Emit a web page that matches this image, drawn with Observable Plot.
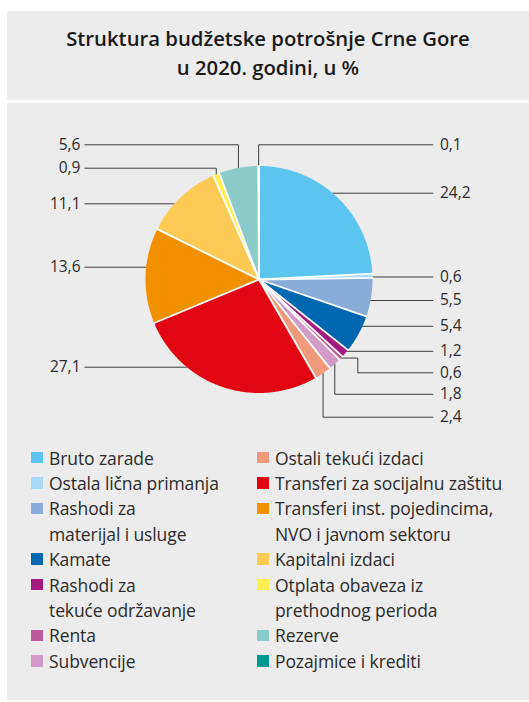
<!DOCTYPE html>
<html>
<head>
<meta charset="utf-8">
<script src="https://cdn.jsdelivr.net/npm/d3@7"></script>
<script src="https://cdn.jsdelivr.net/npm/@observablehq/plot@0.6"></script>
<style>
  html, body { margin: 0; padding: 0; background: #ffffff; }
  body { width: 529px; height: 702px; position: relative; overflow: hidden; font-family: "Open Sans", "Noto Sans", sans-serif; color: #2b2b2b; }
  .panel { position: absolute; background: #ececec; }
  #title { left: 7px; top: 11px; width: 522px; height: 89px; box-sizing: border-box; padding-top: 13.2px;
           text-align: center; font-weight: 600; font-size: 20.3px; line-height: 29px; color: #1a1a1a; letter-spacing: 0px; }
  #body { left: 7px; top: 103px; width: 522px; height: 597px; }
  #chart { position: absolute; left: 0; top: 103px; }
  #legend { position: absolute; left: 31px; top: 445.5px; display: grid; grid-template-columns: 226px 270px;
            font-size: 17.5px; line-height: 25.4px; color: #2b2b2b; letter-spacing: -0.1px; }
  .item { position: relative; padding-left: 18px; white-space: nowrap; }
  .sw { position: absolute; left: 0; top: 6.2px; width: 11.7px; height: 11.7px; }
</style>
</head>
<body>
<div class="panel" id="title">Struktura budžetske potrošnje Crne Gore<br>u 2020. godini, u %</div>
<div class="panel" id="body"></div>
<div id="chart"></div>
<div id="legend"></div>
<script>
// ---- data ----
const categories = [
  "Bruto zarade",
  "Ostala lična primanja",
  "Rashodi za materijal i usluge",
  "Kamate",
  "Rashodi za tekuće održavanje",
  "Renta",
  "Subvencije",
  "Ostali tekući izdaci",
  "Transferi za socijalnu zaštitu",
  "Transferi inst. pojedincima, NVO i javnom sektoru",
  "Kapitalni izdaci",
  "Otplata obaveza iz prethodnog perioda",
  "Rezerve",
  "Pozajmice i krediti"
];
const values = [24.2, 0.6, 5.5, 5.4, 1.2, 0.6, 1.8, 2.4, 27.1, 13.6, 11.1, 0.9, 5.6, 0.1];
const legendLines = [
  ["Bruto zarade"],
  ["Ostala lična primanja"],
  ["Rashodi za", "materijal i usluge"],
  ["Kamate"],
  ["Rashodi za", "tekuće održavanje"],
  ["Renta"],
  ["Subvencije"],
  ["Ostali tekući izdaci"],
  ["Transferi za socijalnu zaštitu"],
  ["Transferi inst. pojedincima,", "NVO i javnom sektoru"],
  ["Kapitalni izdaci"],
  ["Otplata obaveza iz", "prethodnog perioda"],
  ["Rezerve"],
  ["Pozajmice i krediti"]
];
const colors = ["#5bc4ef", "#a7dbf5", "#8aacda", "#0068b1", "#a2197f", "#bd5a9c", "#d29ac6",
                "#f19a7b", "#e20613", "#f29100", "#fdca55", "#fff04f", "#8bcbc9", "#009a8e"];

// ---- layout (page pixels) ----
const W = 529, TOP = 103, H = 330;
const CX = 258.5, CY = 279, R = 113.5;
const RIGHT_END = 432.3, LEFT_END = 84.3, RIGHT_TEXT = 439.5, LEFT_TEXT = 80;
// label placement: slice index, side, label y (page px), route type
const labelLayout = [
  {i: 13, side: "right", y: 144.3, route: "v"},
  {i: 0,  side: "right", y: 192.7, route: "h"},
  {i: 1,  side: "right", y: 276.5, route: "h"},
  {i: 2,  side: "right", y: 300.0, route: "h"},
  {i: 3,  side: "right", y: 325.8, route: "h"},
  {i: 4,  side: "right", y: 350.8, route: "h"},
  {i: 5,  side: "right", y: 372.3, route: "step", elbow: 357.3},
  {i: 6,  side: "right", y: 393.8, route: "v"},
  {i: 7,  side: "right", y: 416.7, route: "v"},
  {i: 8,  side: "left",  y: 366.7, route: "h"},
  {i: 9,  side: "left",  y: 266.7, route: "h"},
  {i: 10, side: "left",  y: 203.3, route: "h"},
  {i: 11, side: "left",  y: 167.7, route: "v"},
  {i: 12, side: "left",  y: 144.3, route: "v"}
];

// data units: pie radius = 1, origin at pie centre, y up
const px2x = p => (p - CX) / R;
const py2y = p => (CY - p) / R;

const arcs = d3.pie().sort(null).value(d => d.value)(categories.map((name, i) => ({name, value: values[i]})));

// slice polygons
const slicePts = [];
arcs.forEach(a => {
  const n = Math.max(2, Math.ceil((a.endAngle - a.startAngle) / 0.01));
  slicePts.push({name: a.data.name, x: 0, y: 0});
  for (let k = 0; k <= n; k++) {
    const t = a.startAngle + (a.endAngle - a.startAngle) * k / n;
    slicePts.push({name: a.data.name, x: Math.sin(t), y: Math.cos(t)});
  }
});
const boundaries = arcs.map(a => a.startAngle);

// leader lines
const leaderPts = [];
const labels = [];
labelLayout.forEach((L, k) => {
  const a = arcs[L.i];
  const mid = (a.startAngle + a.endAngle) / 2;
  const ly = py2y(L.y);
  const endX = px2x(L.side === "right" ? RIGHT_END : LEFT_END);
  let pts;
  if (L.route === "h") {
    const sx = Math.sqrt(Math.max(0, 1 - ly * ly)) * (L.side === "right" ? 1 : -1);
    pts = [[sx, ly], [endX, ly]];
  } else if (L.route === "v") {
    const ax = Math.sin(mid), ay = Math.cos(mid);
    pts = [[ax, ay], [ax, ly], [endX, ly]];
  } else {
    const ax = Math.sin(mid), ay = Math.cos(mid);
    const ex = px2x(L.elbow);
    pts = [[ax, ay], [ex, ay], [ex, ly], [endX, ly]];
  }
  pts.forEach(p => leaderPts.push({k, x: p[0], y: p[1]}));
  labels.push({
    x: px2x(L.side === "right" ? RIGHT_TEXT : LEFT_TEXT),
    y: ly,
    text: values[L.i].toFixed(1).replace(".", ","),
    anchor: L.side === "right" ? "start" : "end"
  });
});

const chart = Plot.plot({
  width: W,
  height: H,
  margin: 0,
  style: {background: "transparent", fontFamily: "'Open Sans', 'Noto Sans', sans-serif", overflow: "visible"},
  x: {domain: [px2x(0), px2x(W)], axis: null},
  y: {domain: [py2y(TOP + H), py2y(TOP)], axis: null},
  color: {domain: categories, range: colors},
  marks: [
    Plot.line(leaderPts, {x: "x", y: "y", z: "k", stroke: "#3d3d3d", strokeWidth: 1, curve: "linear"}),
    Plot.line(slicePts, {x: "x", y: "y", z: "name", fill: "name", stroke: "none", curve: "linear-closed"}),
    Plot.link(boundaries, {x1: () => 0, y1: () => 0, x2: t => Math.sin(t) * 1.005, y2: t => Math.cos(t) * 1.005,
                           stroke: "#ffffff", strokeWidth: 1.8}),
    Plot.text(labels.filter(d => d.anchor === "start"), {x: "x", y: "y", text: "text", textAnchor: "start",
              fontSize: 15.5, fill: "#2b2b2b"}),
    Plot.text(labels.filter(d => d.anchor === "end"), {x: "x", y: "y", text: "text", textAnchor: "end",
              fontSize: 15.5, fill: "#2b2b2b"})
  ]
});
document.getElementById("chart").appendChild(chart);

// legend (two columns, left 0-6, right 7-13)
const legend = document.getElementById("legend");
const rows = 7;
for (let r = 0; r < rows; r++) {
  [r, r + rows].forEach(i => {
    const div = document.createElement("div");
    div.className = "item";
    const sw = document.createElement("span");
    sw.className = "sw";
    sw.style.background = colors[i];
    div.appendChild(sw);
    legendLines[i].forEach((line, j) => {
      if (j) div.appendChild(document.createElement("br"));
      div.appendChild(document.createTextNode(line));
    });
    legend.appendChild(div);
  });
}
</script>
</body>
</html>
